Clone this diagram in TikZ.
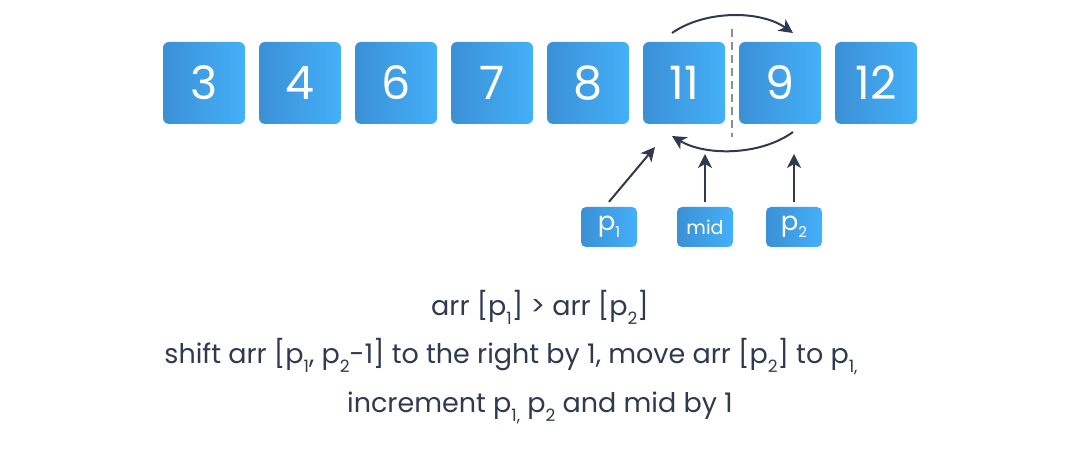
\documentclass[tikz,border=0pt]{standalone}
\usepackage{fontspec}
\setmainfont{Poppins}
\usetikzlibrary{arrows.meta}
\definecolor{bL}{HTML}{3B90D6}
\definecolor{bR}{HTML}{44B0F8}
\definecolor{ink}{HTML}{2E3A4F}
\definecolor{dashc}{HTML}{8A8F96}
\newcommand\sbs[1]{\raisebox{-8.5pt}{\fontsize{17}{17}\selectfont #1}}
\newcommand\sbl[1]{\raisebox{-7pt}{\fontsize{15}{15}\selectfont #1}}
\tikzset{
  numbox/.style={draw=none, rounded corners=6pt, minimum width=82pt, minimum height=82pt,
    left color=bL, right color=bR, text=white, inner sep=0pt,
    font=\fontsize{46}{46}\selectfont},
  lblbox/.style={draw=none, rounded corners=5pt, minimum width=56pt, minimum height=40pt,
    left color=bL, right color=bR, text=white, inner sep=0pt},
  arr/.style={draw=ink, line width=2pt, -{Stealth[length=14pt,width=14pt,inset=4pt]}},
  txt/.style={text=ink, anchor=base, inner sep=0pt, font=\fontsize{27}{27}\selectfont}
}
\begin{document}
\begin{tikzpicture}[x=1pt,y=-1pt]
\useasboundingbox (0,0) rectangle (1080,462);
\fill[white] (0,0) rectangle (1080,462);
\foreach \v [count=\i from 0] in {3,4,6,7,8,11,9,12}{
  \node[numbox] (b\i) at (204+96*\i,83) {\v};
}
\coordinate (dtop) at (732,29);
\coordinate (dbot) at (732,137);
\draw[dashc, line width=1.3pt, dash pattern=on 8pt off 5pt] (dtop) -- (dbot);
% swap arrows
\coordinate (ts) at (672,33);
\coordinate (te) at (793,33);
\draw[arr] (ts) .. controls (705,10) and (760,10) .. (te);
\coordinate (bs) at (793,132);
\coordinate (be) at (672,136);
\draw[arr] (bs) .. controls (760,156) and (705,156) .. (be);
% labels
\node[lblbox, font=\fontsize{26}{26}\selectfont] (p1) at (609,227) {p\sbl{1}};
\node[lblbox, font=\fontsize{19}{19}\selectfont] (mid) at (705,227) {mid};
\node[lblbox, font=\fontsize{26}{26}\selectfont] (p2) at (794,227) {p\sbl{2}};
\coordinate (p1t) at (655,147);
\coordinate (midt) at (705,154);
\coordinate (p2t) at (794,154);
\draw[arr] (p1.north) ++(0,-5) -- (p1t);
\draw[arr] (mid.north) ++(0,-5) -- (midt);
\draw[arr] (p2.north) ++(0,-5) -- (p2t);
% text
\node[txt] (l1) at (540,316) {arr [p\sbs{1}] > arr [p\sbs{2}]};
\node[txt] (l2) at (511,364) {shift arr [p\sbs{1}, p\sbs{2}-1] to the right by 1, move arr [p\sbs{2}] to p\sbs{1,}};
\node[txt] (l3) at (540,413) {increment p\sbs{1,} p\sbs{2} and mid by 1};
\end{tikzpicture}
\end{document}
